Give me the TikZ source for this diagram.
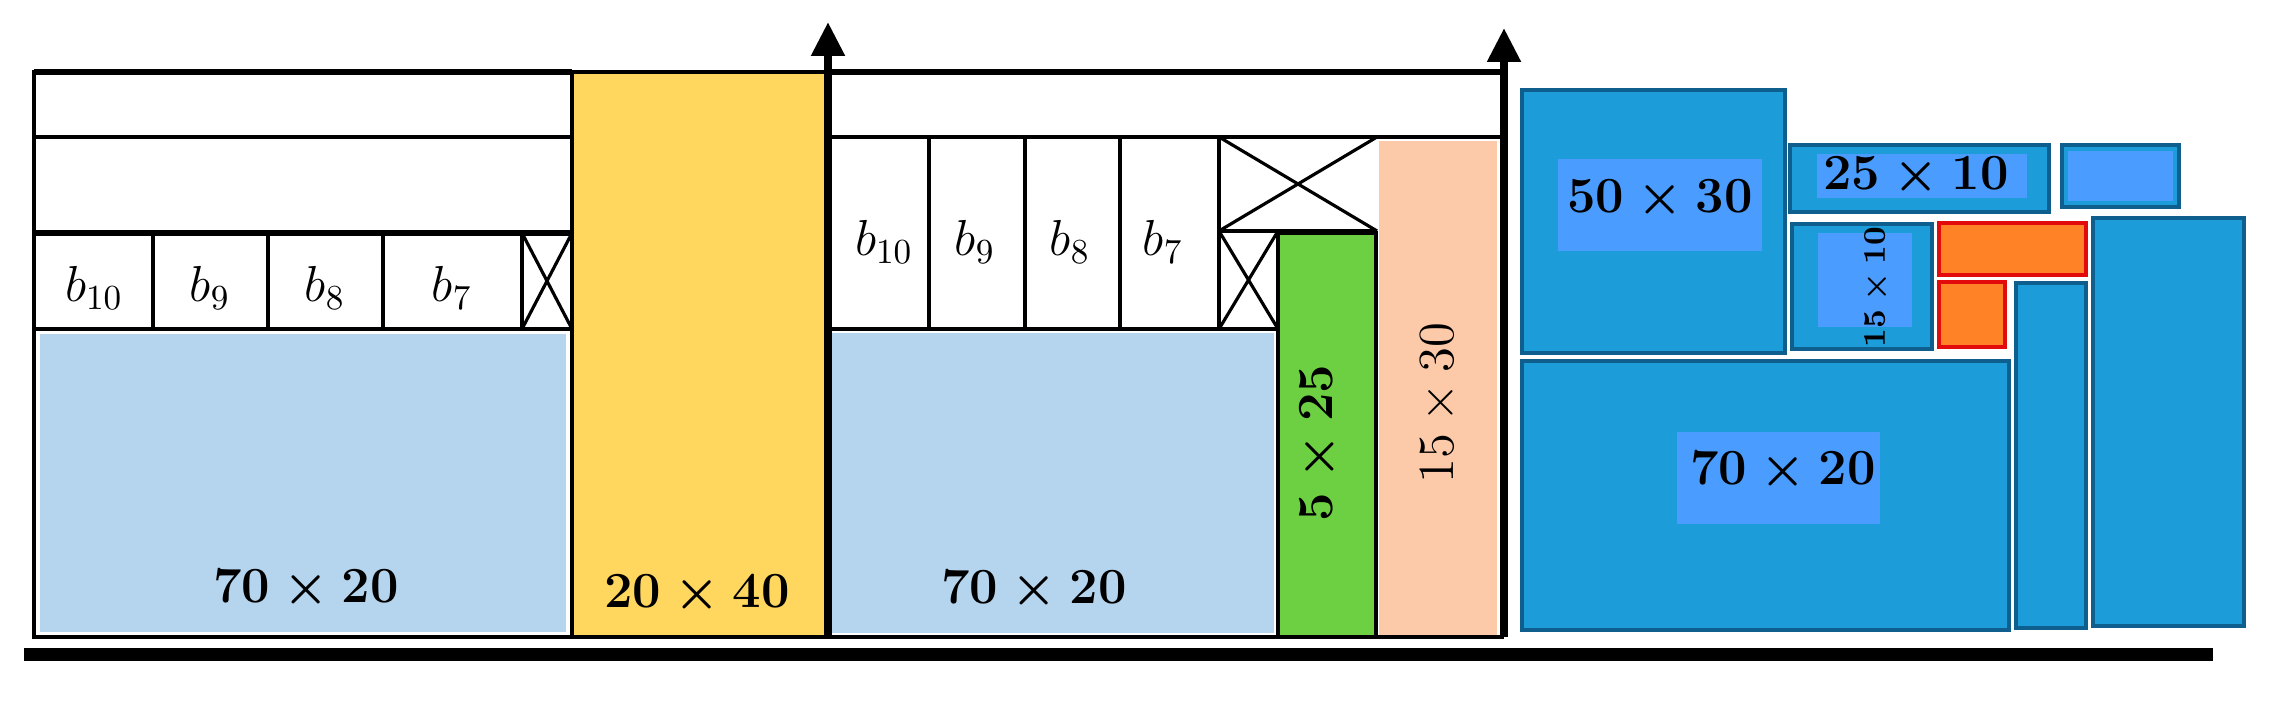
\documentclass[tikz,border=0pt]{standalone}
\usetikzlibrary{arrows.meta}
\definecolor{lightblue}{HTML}{B5D5EE}
\definecolor{binyellow}{HTML}{FFD75E}
\definecolor{bingreen}{HTML}{6DD042}
\definecolor{binpeach}{HTML}{FCC9A9}
\definecolor{boxblue}{HTML}{1C9CD8}
\definecolor{boxborder}{HTML}{0E5F8E}
\definecolor{lblblue}{HTML}{4A9CFF}
\definecolor{boxorange}{HTML}{FF8226}
\definecolor{orangeborder}{HTML}{E20A0A}
\begin{document}
\begin{tikzpicture}[x=0.1mm,y=-0.1mm,
  thinline/.style={draw=black,line width=1.1pt},
  thickline/.style={draw=black,line width=1.6pt},
  crossline/.style={draw=black,line width=0.9pt},
  bluebox/.style={fill=boxblue,draw=boxborder,line width=1.1pt},
  orangebox/.style={fill=boxorange,draw=orangeborder,line width=1.1pt},
  lblbg/.style={fill=lblblue,draw=none},
  biglbl/.style={inner sep=0pt,font=\fontsize{14.5}{17}\selectfont\boldmath},
  reglbl/.style={inner sep=0pt,font=\fontsize{14.5}{17}\selectfont},
  smalllbl/.style={inner sep=0pt,font=\fontsize{9}{11}\selectfont\boldmath},
  blbl/.style={inner sep=0pt,font=\fontsize{14.5}{16}\selectfont},
  axisarrow/.style={draw=black,line width=2.3pt,-{Triangle[length=3.4mm,width=3.2mm]}}]
\useasboundingbox (0,0) rectangle (2276,702);
% ---------- bin 1 ----------
\fill[lightblue] (40,334) rectangle (566,632);
\filldraw[fill=binyellow,thinline] (572,72) rectangle (826,637);
\draw[thinline] (34,72) rectangle (572,637);
\draw[thickline] (34,72) -- (572,72);
\draw[thinline] (34,137) -- (572,137);
\draw[thickline] (34,233) -- (572,233);
\draw[thinline] (34,329) -- (572,329);
\foreach \xx in {153,268,383,522} \draw[thinline] (\xx,233) -- (\xx,329);
\draw[crossline] (522,233) -- (572,329) (522,329) -- (572,233);
\node[blbl] (b10a) at (94,288) {$b_{10}$};
\node[blbl] (b9a) at (210,288) {$b_{9}$};
\node[blbl] (b8a) at (325,288) {$b_{8}$};
\node[blbl] (b7a) at (452,288) {$b_{7}$};
\node[biglbl] (l1) at (306,590) {$70\times 20$};
\node[biglbl] (l2) at (697,595) {$20\times 40$};
% ---------- bin 2 ----------
\fill[lightblue] (832,333) rectangle (1274,633);
\filldraw[fill=bingreen,thinline] (1278,233) rectangle (1376,637);
\fill[binpeach] (1379,141) rectangle (1497,635);
\draw[thickline] (828,72) -- (1504,72);
\draw[thinline] (828,137) -- (1504,137);
\draw[thinline] (828,329) -- (1278,329);
\foreach \xx in {929,1025,1120,1219} \draw[thinline] (\xx,137) -- (\xx,329);
\draw[thinline] (1219,231) -- (1377,231);
\draw[crossline] (1219,137) -- (1377,231) (1219,231) -- (1377,137);
\draw[crossline] (1219,231) -- (1278,329) (1219,329) -- (1278,231);
\node[blbl] (b10b) at (884,242) {$b_{10}$};
\node[blbl] (b9b) at (975,242) {$b_{9}$};
\node[blbl] (b8b) at (1070,242) {$b_{8}$};
\node[blbl] (b7b) at (1163,242) {$b_{7}$};
\node[biglbl] (l3) at (1034,591) {$70\times 20$};
\node[biglbl,rotate=90] (l4) at (1320,443) {$5\times 25$};
\node[reglbl,rotate=90] (l5) at (1439,403) {$15\times 30$};
% bottom of bins and axes
\draw[thinline] (34,637) -- (1504,637);
\draw[axisarrow] (828,637) -- (828,22);
\draw[axisarrow] (1504,637) -- (1504,28);
\draw[black,line width=3.7pt] (24,655) -- (2213,655);
% ---------- right packing ----------
\filldraw[bluebox] (1522,90) rectangle (1785,353);
\filldraw[bluebox] (1790,145) rectangle (2049,212);
\filldraw[bluebox] (2062,145) rectangle (2179,207);
\filldraw[bluebox] (1792,224) rectangle (1932,349);
\filldraw[orangebox] (1939,223) rectangle (2086,275);
\filldraw[orangebox] (1939,282) rectangle (2005,347);
\filldraw[bluebox] (1522,361) rectangle (2009,630);
\filldraw[bluebox] (2016,283) rectangle (2086,628);
\filldraw[bluebox] (2093,218) rectangle (2244,626);
\fill[lblblue] (2068,151) rectangle (2173,201);
\fill[lblbg] (1558,159) rectangle (1762,251);
\fill[lblbg] (1817,154) rectangle (2027,198);
\fill[lblbg] (1818,233) rectangle (1912,327);
\fill[lblbg] (1677,432) rectangle (1880,524);
\node[biglbl] (r1) at (1660,200) {$50\times 30$};
\node[biglbl] (r2) at (1916,177) {$25\times 10$};
\node[smalllbl,rotate=90] (r3) at (1877,287) {$15\times 10$};
\node[biglbl] (r4) at (1783,472) {$70\times 20$};
\end{tikzpicture}
\end{document}
